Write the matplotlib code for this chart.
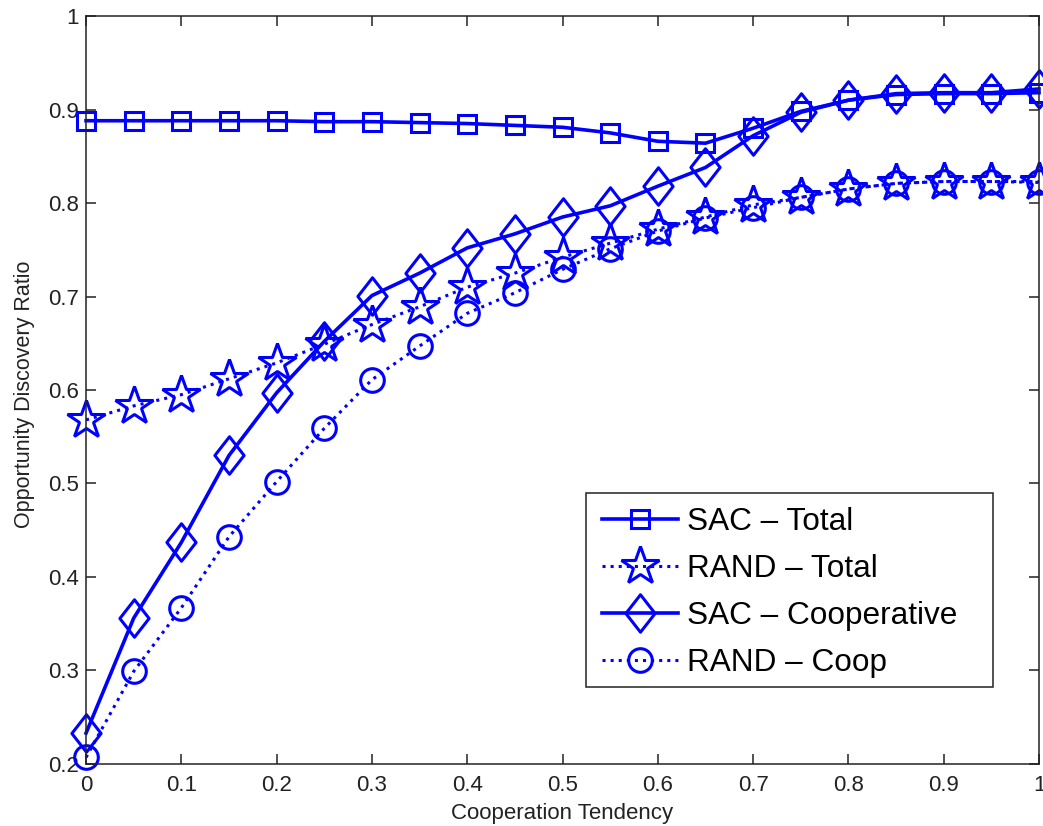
import matplotlib
matplotlib.use("Agg")
import matplotlib.pyplot as plt
from matplotlib.path import Path
from matplotlib.patches import Rectangle

plt.rcParams["font.family"] = ["Liberation Sans", "DejaVu Sans"]

tendency = [0.0, 0.05, 0.1, 0.15, 0.2, 0.25, 0.3, 0.35, 0.4, 0.45, 0.5,
            0.55, 0.6, 0.65, 0.7, 0.75, 0.8, 0.85, 0.9, 0.95, 1.0]

sac_total = [0.888, 0.888, 0.888, 0.888, 0.888, 0.887, 0.887, 0.886, 0.885, 0.883, 0.881,
             0.875, 0.866, 0.864, 0.880, 0.898, 0.910, 0.916, 0.917, 0.917, 0.918]
rand_total = [0.568, 0.583, 0.595, 0.612, 0.629, 0.649, 0.670, 0.689, 0.710, 0.725, 0.742,
              0.757, 0.772, 0.785, 0.798, 0.806, 0.815, 0.821, 0.823, 0.823, 0.823]
sac_coop = [0.233, 0.356, 0.437, 0.530, 0.597, 0.652, 0.701, 0.725, 0.752, 0.767, 0.785,
            0.797, 0.818, 0.838, 0.872, 0.897, 0.910, 0.917, 0.918, 0.918, 0.922]
rand_coop = [0.207, 0.299, 0.367, 0.443, 0.502, 0.559, 0.611, 0.647, 0.682, 0.704, 0.729,
             0.751, 0.770, 0.784, 0.795, 0.806, 0.815, 0.821, 0.823, 0.823, 0.822]

labels = ["SAC \u2013 Total", "RAND \u2013 Total", "SAC \u2013 Cooperative", "RAND \u2013 Coop"]

xticks = [0, 0.1, 0.2, 0.3, 0.4, 0.5, 0.6, 0.7, 0.8, 0.9, 1]
xtick_labels = ["0", "0.1", "0.2", "0.3", "0.4", "0.5", "0.6", "0.7", "0.8", "0.9", "1"]
yticks = [0.2, 0.3, 0.4, 0.5, 0.6, 0.7, 0.8, 0.9, 1.0]
ytick_labels = ["0.2", "0.3", "0.4", "0.5", "0.6", "0.7", "0.8", "0.9", "1"]

# MATLAB style diamond: taller than wide
diamond = Path([(0, 1), (0.78, 0), (0, -1), (-0.78, 0), (0, 1)],
               [Path.MOVETO, Path.LINETO, Path.LINETO, Path.LINETO, Path.CLOSEPOLY])

blue = (0, 0, 1)
dark = "#222222"

fig = plt.figure(figsize=(10.43, 8.26), dpi=100)
ax = fig.add_axes([0.0825, 0.0751, 0.9137, 0.9055])

series = [
    (sac_total, "-", "s", 13),
    (rand_total, ":", "*", 29),
    (sac_coop, "-", diamond, 27),
    (rand_coop, ":", "o", 17),
]
for (vals, ls, mk, ms), lab in zip(series, labels):
    ax.plot(tendency, vals, linestyle=ls, marker=mk, markersize=ms, color=blue,
            markerfacecolor="none", markeredgecolor=blue, markeredgewidth=2.2,
            linewidth=2.6 if ls == "-" else 2.2, label=lab, clip_on=False)

ax.set_xlim(0, 1)
ax.set_ylim(0.2, 1.0)
ax.set_xticks(xticks)
ax.set_xticklabels(xtick_labels)
ax.set_yticks(yticks)
ax.set_yticklabels(ytick_labels)
ax.tick_params(direction="in", length=7, width=1.1, top=True, right=True,
               labelsize=16, colors=dark)
ax.tick_params(axis="x", pad=8)
ax.tick_params(axis="y", pad=5)
for sp in ax.spines.values():
    sp.set_linewidth(1.1)
    sp.set_color(dark)

ax.set_xlabel("Cooperation Tendency", fontsize=16, labelpad=5, color=dark)
ax.set_ylabel("Opportunity Discovery Ratio", fontsize=15.5, color=dark)
ax.yaxis.set_label_coords(-0.054, 0.494)

# legend box drawn separately so it can keep MATLAB's wide right margin
ax.add_patch(Rectangle((0.5244, 0.1029), 0.4274, 0.2598, transform=ax.transAxes,
                       facecolor="white", edgecolor=dark, linewidth=1.1,
                       zorder=4.5, clip_on=False))
ax.legend(loc="upper left", bbox_to_anchor=(0.5415, 0.343), borderaxespad=0,
          fontsize=22.7, numpoints=1, handlelength=2.4, handletextpad=0.3,
          labelspacing=0.53, frameon=False, borderpad=0)

fig.savefig("out.png", dpi=100)
